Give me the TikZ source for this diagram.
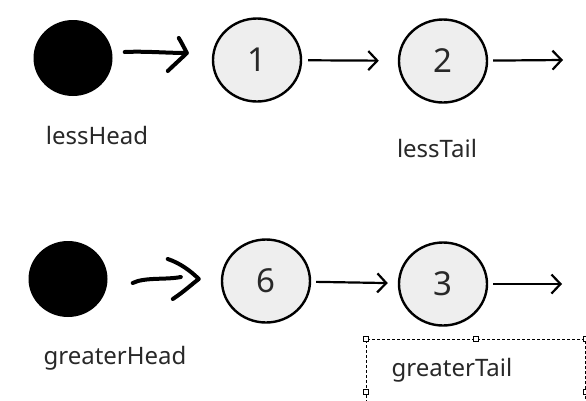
\documentclass[tikz,border=0pt]{standalone}
\usepackage{fontspec}
\setmainfont{Noto Sans}
\usetikzlibrary{arrows.meta,shapes.geometric}
\definecolor{nodeGrey}{RGB}{238,238,238}
\definecolor{inkGrey}{RGB}{40,40,40}

\begin{document}
\begin{tikzpicture}[
  x=1pt,y=-1pt,
  every node/.style={font=\fontsize{24}{28}\selectfont,text=inkGrey},
  headdot/.style={ellipse,fill=black,minimum width=79pt,minimum height=76pt,inner sep=0pt},
  item/.style={ellipse,draw=black,fill=nodeGrey,line width=2.4pt,minimum width=88pt,minimum height=83pt,inner sep=0pt,font=\fontsize{33}{38}\selectfont},
  link/.style={-{Straight Barb[length=9pt,width=19pt,line width=2.2pt]},line width=2.2pt},
  hand/.style={line width=4pt,line cap=round,line join=round},
  frame/.style={draw=black,dash pattern=on 3pt off 2pt,line width=0.8pt,minimum width=219pt,minimum height=106pt,inner sep=0pt},
  handle/.style={draw=black,fill=white,line width=0.6pt,minimum size=5pt,inner sep=0pt}
]
  \useasboundingbox (0,0) rectangle (586,400);

  % less list
  \node[headdot] (lessDot) at (73,58) {};
  \node[item] (lessOne) at (257,60) {1};
  \node[item] (lessTwo) at (443,61) {2};
  \coordinate (lessEnd) at (563,60);
  \node (lessHeadLabel) at (97,135) {lessHead};
  \node (lessTailLabel) at (437,148) {lessTail};

  % greater list
  \node[headdot] (greaterDot) at (68,279) {};
  \node[item] (greaterSix) at (266,281) {6};
  \node[item] (greaterThree) at (443,284) {3};
  \coordinate (greaterEnd) at (562,284);
  \node (greaterHeadLabel) at (115,358) {greaterHead};

  % selected tail label with handles
  \node[frame] (tailFrame) at (475.5,392) {};
  \node (greaterTailLabel) at (452,370) {greaterTail};
  \foreach \a in {north west,north,north east,west,east} {
    \node[handle] at (tailFrame.\a) {};
  }

  % hand-drawn head pointers
  \draw[hand] ([shift={(12,-6)}]lessDot.east) .. controls +(20,-1) and +(-20,0) ..
    ([shift={(-25,-7)}]lessOne.west) coordinate (lessTip);
  \draw[hand] ([shift={(-8,-15)}]lessTip) .. controls +(3,5) and +(-2,-4) .. (lessTip)
    .. controls +(-6,6) and +(4,-4) .. ([shift={(-19,18)}]lessTip);
  \draw[hand] ([shift={(25,4)}]greaterDot.east) .. controls +(12,-6) and +(-15,3) ..
    ([shift={(-40,-4)}]greaterSix.west);
  \draw[hand] ([shift={(-53,-22)}]greaterSix.west) .. controls +(12,4) and +(-8,-8) ..
    ([shift={(-22,-2)}]greaterSix.west) coordinate (greaterTip)
    .. controls +(-8,6) and +(12,-8) .. ([shift={(-48,18)}]greaterSix.west);

  % list links
  \draw[link,shorten <=6pt,shorten >=19pt] (lessOne) -- (lessTwo);
  \draw[link,shorten <=5pt] (lessTwo) -- (lessEnd);
  \draw[link,shorten <=5pt,shorten >=10pt] (greaterSix) -- (greaterThree);
  \draw[link,shorten <=5pt] (greaterThree) -- (greaterEnd);
\end{tikzpicture}
\end{document}
